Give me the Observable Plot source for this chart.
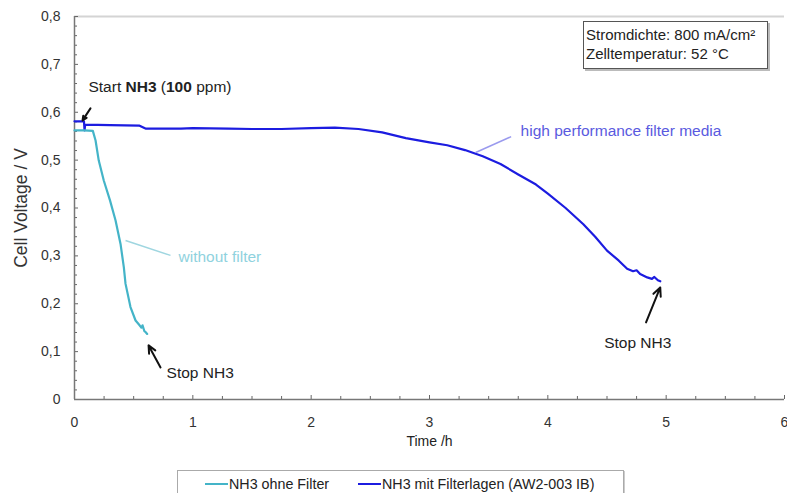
<!DOCTYPE html>
<html><head><meta charset="utf-8">
<script src="https://cdn.jsdelivr.net/npm/d3@7"></script>
<script src="https://cdn.jsdelivr.net/npm/@observablehq/plot@0.6"></script>
<style>
body{margin:0;background:#fff;font-family:"Liberation Sans",Arial,sans-serif;}
#wrap{position:relative;width:787px;height:493px;overflow:hidden;background:#fff;}
#info{position:absolute;left:583px;top:21px;width:185px;height:48px;border:1px solid #555;box-shadow:2px 2px 0 #bbb;background:#fff;font-size:15px;color:#222;line-height:19px;padding:3px 0 0 2px;box-sizing:border-box;white-space:nowrap;}
#legend{position:absolute;left:177px;top:470px;width:445px;height:40px;border:1px solid #aaa;box-shadow:1px 1px 0 #ccc;background:#fff;font-size:14.3px;color:#222;}
.li{position:absolute;top:5px;white-space:nowrap;}
.li span.sw{display:inline-block;width:23px;height:2px;vertical-align:middle;margin-right:1px;position:relative;top:-1px;}
</style></head><body><div id="wrap"></div>
<script>
// Series: NH3 ohne Filter (without filter)
const timeOhne = [0, 0.08, 0.155, 0.178, 0.205, 0.248, 0.30, 0.347, 0.389, 0.417, 0.431, 0.473, 0.516, 0.55, 0.565, 0.575, 0.59, 0.60, 0.614];
const voltOhne = [0.562, 0.562, 0.561, 0.541, 0.499, 0.457, 0.416, 0.374, 0.325, 0.276, 0.242, 0.193, 0.165, 0.155, 0.150, 0.155, 0.143, 0.141, 0.137];
// Series: NH3 mit Filterlagen (high performance filter media)
const timeMit = [0, 0.08, 0.085, 0.09, 0.3, 0.55, 0.6, 0.9, 1.0, 1.3, 1.5, 1.75, 2.0, 2.2, 2.4, 2.6, 2.8, 3.0, 3.15, 3.3, 3.45, 3.6, 3.75, 3.9, 4.0, 4.15, 4.3, 4.4, 4.5, 4.6, 4.67, 4.72, 4.75, 4.78, 4.84, 4.88, 4.9, 4.93, 4.95];
const voltMit = [0.581, 0.581, 0.562, 0.574, 0.573, 0.572, 0.566, 0.566, 0.567, 0.566, 0.565, 0.565, 0.567, 0.568, 0.565, 0.558, 0.546, 0.537, 0.531, 0.521, 0.508, 0.492, 0.470, 0.449, 0.430, 0.400, 0.366, 0.340, 0.311, 0.290, 0.273, 0.268, 0.270, 0.262, 0.255, 0.252, 0.256, 0.249, 0.247];

const seriesNames = ["NH3 ohne Filter", "NH3 mit Filterlagen (AW2-003 IB)"];
const seriesColors = ["#44b4c8", "#1c1ce0"];

const xTicks = [0, 1, 2, 3, 4, 5, 6];
const yTicks = [0, 0.1, 0.2, 0.3, 0.4, 0.5, 0.6, 0.7, 0.8];
const yTickLabels = ["0", "0,1", "0,2", "0,3", "0,4", "0,5", "0,6", "0,7", "0,8"];
const xMinor = [0.25, 0.5, 0.75, 1.25, 1.5, 1.75, 2.25, 2.5, 2.75, 3.25, 3.5, 3.75, 4.25, 4.5, 4.75, 5.25, 5.5, 5.75];
const yMinor = [0.02, 0.04, 0.06, 0.08, 0.12, 0.14, 0.16, 0.18, 0.22, 0.24, 0.26, 0.28, 0.32, 0.34, 0.36, 0.38, 0.42, 0.44, 0.46, 0.48, 0.52, 0.54, 0.56, 0.58, 0.62, 0.64, 0.66, 0.68, 0.72, 0.74, 0.76, 0.78];

// Annotations
const annotTexts = [
  {t: 0.118, v: 0.652, text: "Start NH3 (100 ppm)", anchor: "start", color: "#222"},
  {t: 0.778, v: 0.056, text: "Stop NH3", anchor: "start", color: "#222"},
  {t: 4.76, v: 0.117, text: "Stop NH3", anchor: "middle", color: "#222"},
  {t: 0.879, v: 0.297, text: "without filter", anchor: "start", color: "#8fd2de"},
  {t: 3.77, v: 0.560, text: "high performance filter media", anchor: "start", color: "#5a5ae0"}
];
const annotArrows = [
  {t1: 0.135, v1: 0.608, t2: 0.068, v2: 0.583},
  {t1: 0.727, v1: 0.067, t2: 0.626, v2: 0.113},
  {t1: 4.83, v1: 0.161, t2: 4.95, v2: 0.234}
];
const leaderLines = [
  {t1: 0.431, v1: 0.332, t2: 0.811, v2: 0.301, color: "#9fd6e0"},
  {t1: 3.39, v1: 0.516, t2: 3.69, v2: 0.549, color: "#9a9aee"}
];

const ohne = timeOhne.map((t, i) => ({t, v: voltOhne[i]}));
const mit = timeMit.map((t, i) => ({t, v: voltMit[i]}));

const chart = Plot.plot({
  width: 787,
  height: 493,
  marginLeft: 74,
  marginRight: 3,
  marginTop: 16,
  marginBottom: 94,
  style: {fontFamily: '"Liberation Sans", Arial, sans-serif', fontSize: "14px", color: "#222", background: "#fff", overflow: "visible"},
  x: {domain: [0, 6]},
  y: {domain: [0, 0.8]},
  marks: [
    Plot.ruleY([0.8], {stroke: "#d4d4d4", strokeWidth: 2}),
    Plot.axisY(yMinor, {tickSize: -3, text: null, stroke: "#666"}),
    Plot.axisY(yTicks, {tickSize: -4, stroke: "#666", tickFormat: (d) => yTickLabels[yTicks.indexOf(d)], tickPadding: 18, fontSize: 14, fill: "#333", label: null}),
    Plot.axisX(xMinor, {tickSize: -3, text: null, stroke: "#666"}),
    Plot.axisX(xTicks, {tickSize: -4, stroke: "#666", tickFormat: (d) => String(d), tickPadding: 22, fontSize: 14, fill: "#333", label: null}),
    Plot.ruleX([0], {stroke: "#777", strokeWidth: 1.5}),
    Plot.ruleY([0], {stroke: "#777", strokeWidth: 1.5}),
    Plot.text(["Time /h"], {frameAnchor: "bottom", dy: 46, fontSize: 14, fill: "#222"}),
    Plot.text(["Cell Voltage / V"], {frameAnchor: "left", textAnchor: "middle", rotate: -90, dx: -53, dy: 0, fontSize: 17.5, fill: "#333"}),
    Plot.line(mit, {x: "t", y: "v", stroke: seriesColors[1], strokeWidth: 2.2}),
    Plot.line(ohne, {x: "t", y: "v", stroke: seriesColors[0], strokeWidth: 2.2}),
    Plot.link(leaderLines, {x1: "t1", y1: "v1", x2: "t2", y2: "v2", stroke: "color", strokeWidth: 1.5}),
    Plot.arrow(annotArrows, {x1: "t1", y1: "v1", x2: "t2", y2: "v2", stroke: "#111", strokeWidth: 2, headLength: 7, headAngle: 50}),
    Plot.text(annotTexts.filter(d => d.anchor === "start"), {x: "t", y: "v", text: "text", textAnchor: "start", fill: "color", fontSize: 15.5}),
    Plot.text(annotTexts.filter(d => d.anchor === "middle"), {x: "t", y: "v", text: "text", textAnchor: "middle", fill: "color", fontSize: 15.5})
  ]
});
document.getElementById("wrap").appendChild(chart);

// Bold parts in "Start NH3 (100 ppm)"
d3.select(chart).selectAll("text").each(function() {
  if (this.textContent === "Start NH3 (100 ppm)") {
    const sel = d3.select(this);
    sel.text(null);
    [["Start ", false], ["NH3", true], [" (", false], ["100", true], [" ppm)", false]].forEach(([s, b]) => {
      sel.append("tspan").text(s).attr("font-weight", b ? "bold" : null);
    });
  }
});

const info = document.createElement("div");
info.id = "info";
info.innerHTML = "Stromdichte: 800 mA/cm²<br>Zelltemperatur: 52 °C";
document.getElementById("wrap").appendChild(info);

const legend = document.createElement("div");
legend.id = "legend";
const lx = [27, 180];
seriesNames.forEach((name, i) => {
  const it = document.createElement("div");
  it.className = "li";
  it.style.left = lx[i] + "px";
  it.innerHTML = `<span class="sw" style="background:${seriesColors[i]}"></span>${name}`;
  legend.appendChild(it);
});
document.getElementById("wrap").appendChild(legend);
</script>
</body></html>
